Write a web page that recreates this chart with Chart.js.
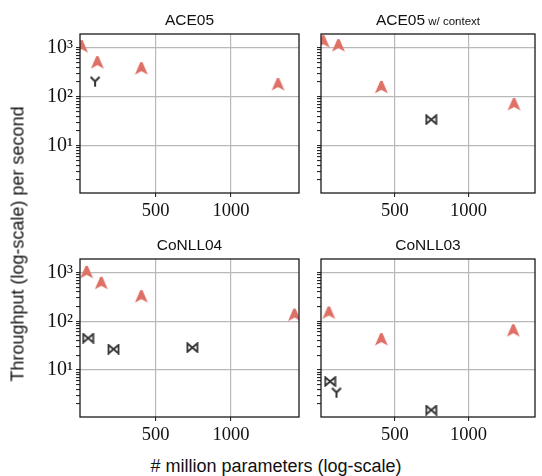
<!DOCTYPE html>
<html>
<head>
<meta charset="utf-8">
<script src="https://cdn.jsdelivr.net/npm/chart.js@4.4.0/dist/chart.umd.min.js"></script>
<style>
body { margin: 0; background: #fff; }
#wrap { position: relative; width: 542px; height: 476px; overflow: hidden; }
canvas { position: absolute; }
.label { position: absolute; font-family: "Liberation Sans", sans-serif; font-size: 18px; color: #111; white-space: nowrap; }
#ytitle { left: 18px; top: 244px; transform: translate(-50%, -50%) rotate(-90deg); }
#xtitle { left: 276px; top: 466px; transform: translate(-50%, -50%); }
</style>
</head>
<body>
<div id="wrap">
<canvas id="ace05" width="306" height="226" style="left:0;top:0"></canvas>
<canvas id="ace05ctx" width="236" height="226" style="left:306px;top:0"></canvas>
<canvas id="conll04" width="306" height="225" style="left:0;top:226px"></canvas>
<canvas id="conll03" width="236" height="225" style="left:306px;top:226px"></canvas>
<div class="label" id="ytitle">Throughput (log-scale) per second</div>
<div class="label" id="xtitle"># million parameters (log-scale)</div>
</div>
<script>
// values
const ace05RedX = [10, 115, 406, 1311];
const ace05RedY = [1050, 494, 373, 176];
const ace05TriX = [100];
const ace05TriY = [205];

const ace05CtxRedX = [15, 118, 409, 1308];
const ace05CtxRedY = [1325, 1100, 155, 69];
const ace05CtxBowX = [747];
const ace05CtxBowY = [34];

const conll04RedX = [44, 141, 406, 1420];
const conll04RedY = [1010, 602, 320, 134];
const conll04BowX = [54, 222, 744];
const conll04BowY = [45, 26.7, 28.8];

const conll03RedX = [53, 409, 1303];
const conll03RedY = [148, 42, 64];
const conll03BowX = [62, 747];
const conll03BowY = [5.8, 1.5];
const conll03TriX = [105];
const conll03TriY = [3.45];

const xTicks = [500, 1000];
const yMajor = [10, 100, 1000];
const yMin = 1.08, yMax = 1900;
const sup = { 1: '\u00b9', 2: '\u00b2', 3: '\u00b3' };

const RED = '#de7066';
const DARK = '#333333';
const GRID = '#b9b9b9';
const serif = '"Liberation Serif", serif';

function redMarker() {
    const c = document.createElement('canvas');
    c.width = 15; c.height = 15;
    const ctx = c.getContext('2d');
    ctx.fillStyle = RED;
    ctx.beginPath();
    ctx.moveTo(6.4, 1); ctx.lineTo(8.6, 1);
    ctx.lineTo(14, 13.5); ctx.lineTo(7.5, 10); ctx.lineTo(1, 13.5);
    ctx.closePath();
    ctx.fill();
    return c;
}

function triMarker() {
    const c = document.createElement('canvas');
    c.width = 12; c.height = 12;
    const ctx = c.getContext('2d');
    ctx.strokeStyle = DARK;
    ctx.lineWidth = 2;
    ctx.beginPath();
    ctx.moveTo(1.5, 1.5); ctx.lineTo(6, 6);
    ctx.moveTo(10.5, 1.5); ctx.lineTo(6, 6);
    ctx.lineTo(6, 11.5);
    ctx.stroke();
    return c;
}

function bowMarker() {
    const c = document.createElement('canvas');
    c.width = 13; c.height = 11;
    const ctx = c.getContext('2d');
    ctx.strokeStyle = DARK;
    ctx.lineWidth = 1.8;
    ctx.beginPath();
    ctx.moveTo(1.5, 1.2); ctx.lineTo(1.5, 9.8); ctx.lineTo(11.5, 1.2); ctx.lineTo(11.5, 9.8); ctx.closePath();
    ctx.stroke();
    return c;
}

const redStyle = redMarker();
const triStyle = triMarker();
const bowStyle = bowMarker();

function points(xs, ys) {
    return xs.map((x, i) => ({ x: x, y: ys[i] }));
}

function series(xs, ys, style) {
    return { data: points(xs, ys), pointStyle: style, pointRadius: 6, clip: 0 };
}

function logTicks(min, max) {
    const out = [];
    for (let k = 0; k <= 3; k++) {
        for (let m = 1; m <= 9; m++) {
            const v = m * Math.pow(10, k);
            if (v >= min && v <= max) out.push({ value: v });
        }
    }
    return out;
}

const panelTitle = {
    id: 'panelTitle',
    afterDraw(chart, args, opts) {
        const ctx = chart.ctx, a = chart.chartArea;
        const big = '15.5px "Liberation Sans", sans-serif';
        const small = '11.5px "Liberation Sans", sans-serif';
        ctx.save();
        ctx.fillStyle = '#111';
        ctx.textAlign = 'left';
        ctx.textBaseline = 'alphabetic';
        ctx.font = big;
        const w1 = ctx.measureText(opts.text).width;
        let w2 = 0;
        if (opts.small) {
            ctx.font = small;
            w2 = ctx.measureText(' ' + opts.small).width;
        }
        const x = (a.left + a.right) / 2 - (w1 + w2) / 2;
        const y = a.top - 9;
        ctx.font = big;
        ctx.fillText(opts.text, x, y);
        if (opts.small) {
            ctx.font = small;
            ctx.fillText(' ' + opts.small, x + w1, y);
        }
        ctx.restore();
    }
};

const frame = {
    id: 'frame',
    afterDatasetsDraw(chart) {
        const ctx = chart.ctx, a = chart.chartArea;
        ctx.save();
        ctx.strokeStyle = '#1a1a1a';
        ctx.lineWidth = 1.3;
        ctx.strokeRect(a.left, a.top, a.right - a.left, a.bottom - a.top);
        ctx.restore();
    }
};

function genScatter(element, title, small, datasets, left, padTop) {
    new Chart(document.getElementById(element), {
        type: 'scatter',
        data: { datasets: datasets },
        options: {
            responsive: false,
            animation: false,
            layout: { padding: { top: padTop, right: left ? 3 : 2, left: 0, bottom: 0 } },
            plugins: {
                legend: { display: false },
                tooltip: { enabled: false },
                panelTitle: { text: title, small: small }
            },
            scales: {
                x: {
                    type: 'linear', min: 0, max: 1450,
                    afterBuildTicks: (scale) => { scale.ticks = xTicks.map(v => ({ value: v })); },
                    afterFit: (scale) => { scale.height = padTop === 34 ? 33 : 34; },
                    ticks: {
                        font: { family: serif, size: 18.5 }, color: '#111', padding: 3, maxRotation: 0,
                        callback: (v) => String(v)
                    },
                    grid: { color: GRID, lineWidth: 1.2, tickColor: '#111', tickWidth: 1, tickLength: 4 },
                    border: { display: false }
                },
                y: {
                    type: 'logarithmic', min: yMin, max: yMax,
                    afterBuildTicks: (scale) => { scale.ticks = logTicks(yMin, yMax); },
                    afterFit: (scale) => { scale.width = left ? 80 : 15; },
                    ticks: {
                        autoSkip: false,
                        font: { family: serif, size: 20 },
                        color: '#111',
                        padding: 3,
                        callback: (v) => left && yMajor.includes(v) ? '10' + sup[Math.round(Math.log10(v))] : ''
                    },
                    grid: {
                        color: (c) => c.tick && yMajor.includes(c.tick.value) ? GRID : 'rgba(0,0,0,0)',
                        lineWidth: 1.2, tickColor: '#111', tickWidth: 1, tickLength: 4
                    },
                    border: { display: false }
                }
            }
        },
        plugins: [panelTitle, frame]
    });
}

genScatter('ace05', 'ACE05', '', [
    series(ace05RedX, ace05RedY, redStyle),
    series(ace05TriX, ace05TriY, triStyle)
], true, 34);

genScatter('ace05ctx', 'ACE05', 'w/ context', [
    series(ace05CtxRedX, ace05CtxRedY, redStyle),
    series(ace05CtxBowX, ace05CtxBowY, bowStyle)
], false, 34);

genScatter('conll04', 'CoNLL04', '', [
    series(conll04RedX, conll04RedY, redStyle),
    series(conll04BowX, conll04BowY, bowStyle)
], true, 33);

genScatter('conll03', 'CoNLL03', '', [
    series(conll03RedX, conll03RedY, redStyle),
    series(conll03BowX, conll03BowY, bowStyle),
    series(conll03TriX, conll03TriY, triStyle)
], false, 33);
</script>
</body>
</html>
